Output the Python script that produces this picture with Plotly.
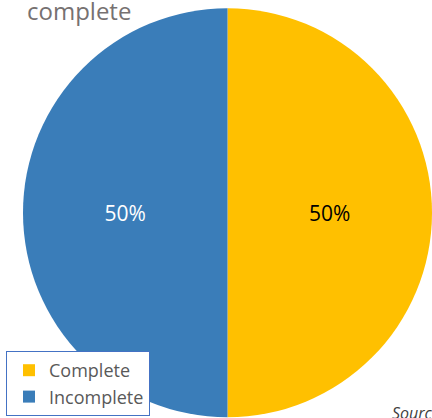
import plotly.graph_objects as go

labels = ["Complete", "Incomplete"]
values = [50, 50]
colors = ["#FFC000", "#3A7DB9"]
text_colors = ["#000000", "#FFFFFF"]

fig = go.Figure(
    go.Pie(
        labels=labels,
        values=values,
        sort=False,
        direction="clockwise",
        rotation=0,
        marker=dict(colors=colors, line=dict(width=0)),
        textinfo="percent",
        texttemplate="%{percent:.0%}",
        textposition="inside",
        insidetextfont=dict(color=text_colors, size=21, family="Open Sans"),
        domain=dict(x=[23 / 432, 1.0], y=[0.0, 0.982]),
        showlegend=True,
    )
)

# title, cut off by the top of the frame
fig.add_annotation(
    text="complete", xref="paper", yref="paper", x=25 / 432, y=1.0,
    xanchor="left", yanchor="middle", yshift=-10, showarrow=False,
    font=dict(family="Open Sans", size=24, color="#767171"),
)
# source note, cut off at the right and bottom
fig.add_annotation(
    text="<i>Sourc</i>", xref="paper", yref="paper", x=390 / 432, y=0.0,
    xanchor="left", yanchor="bottom", yshift=-8, showarrow=False,
    font=dict(family="Open Sans", size=16, color="#404040"),
)

fig.update_layout(
    width=432,
    height=418,
    margin=dict(l=0, r=0, t=0, b=0),
    paper_bgcolor="white",
    plot_bgcolor="white",
    legend=dict(
        x=6 / 432, y=2 / 418, xanchor="left", yanchor="bottom",
        bordercolor="#4472C4", borderwidth=1, bgcolor="white",
        font=dict(family="Open Sans", size=18, color="#595959"),
        indentation=2,
        itemwidth=30,
    ),
)

# page has a default 8px body margin; drop it so the figure sits at 0,0
fig.write_html(
    "out.html",
    config={"displayModeBar": False},
    post_script="document.body.style.margin = '0';",
)
